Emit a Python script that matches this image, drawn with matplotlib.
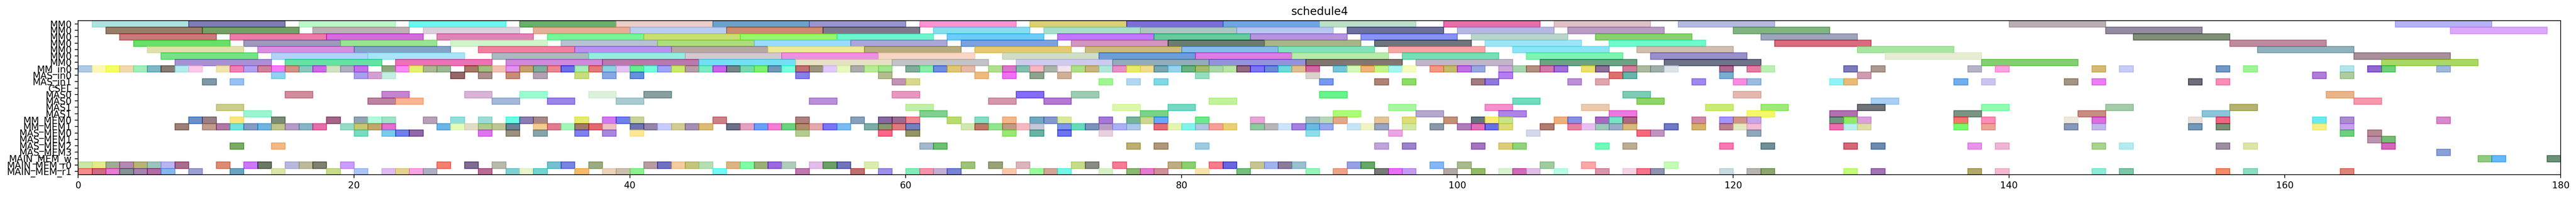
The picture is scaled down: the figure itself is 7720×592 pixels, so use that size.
import matplotlib

matplotlib.use('Agg')
import matplotlib.pyplot as plt

labels = ["MM0", "MM0", "MM0", "MM0", "MM0", "MM0", "MM0", "MM_in0", "MAS_in0", "MAS_in1", "CSEL",
          "MAS0", "MAS0", "MAS1", "MAS1", "MM_MEM0", "MM_MEM1", "MAS_MEM0", "MAS_MEM1", "MAS_MEM2",
          "MAS_MEM3", "MAIN_MEM_w", "MAIN_MEM_r0", "MAIN_MEM_r1"]

# length of one job on each row
lengths = [7, 7, 7, 7, 7, 7, 7, 1, 1, 1, 1, 2, 2, 2, 2, 1, 1, 1, 1, 1, 1, 1, 1, 1]

# start times and colours as they look on white (before alpha), one pair for each row
s0 = [1, 8, 16, 24, 32, 39, 46, 53, 61, 69, 76, 83, 90, 99, 107, 116, 140, 168]
c0 = "AEE3DE 7F7DB5 BCF7C8 6CF7EE 69AF6C ECCEC7 6CA1C9 9894CD FE93D3 DCD074 7D6DDB 6FA5E3 BCDFC8 E66EA9 DFC0C6 B6B9E0 BAAEB4 B5B2F6".split()
s1 = [2, 9, 17, 25, 33, 40, 47, 54, 62, 70, 77, 84, 92, 100, 108, 120, 147, 172]
c1 = "987D6B 769F68 BFB0B6 DCD1DF E6AE97 BACDEE CC8C6D 7E7A8B 84DFEE A8DECE ADC6C0 B8C6F0 6D709D B7B7E4 B99CC5 82B482 948BA0 DCA9FB".split()
s2 = [3, 11, 18, 26, 34, 41, 48, 55, 63, 71, 78, 85, 93, 101, 110, 122, 149]
c2 = "CB7A7C EC7CA8 D56BDD E084B7 78F599 C9DF74 98F76A 70F6CE 6ECCFB C277FC 66CB9C B992E0 8793F7 BAD5CA 8CD070 9CA5BB 808F78".split()
s3 = [4, 12, 19, 27, 35, 42, 49, 56, 64, 72, 79, 86, 94, 102, 111, 123, 156]
c3 = "68DF68 9E99BD 99E492 D0F3CC B7C2D2 ACDD7E 9ADDFD A9A6D8 7BA2E0 D295BF 6A7D70 A9B589 6F757D 9CE6F6 6EFBCD DA6B7E C08A9E".split()
s4 = [5, 13, 20, 29, 36, 43, 50, 57, 65, 73, 80, 87, 95, 104, 113, 129, 158]
c4 = "E0E3AE D88FDF 84A3C8 F580A0 B792F2 B5A7A4 EEEA98 B6AD7F E6CA70 CCBB7D 89BAEB 82E3BF FBA5A5 8AE6F6 D0BEAF A8E6A2 91B1BD".split()
s5 = [6, 14, 21, 30, 37, 44, 51, 58, 67, 74, 81, 88, 96, 105, 114, 131, 165]
c5 = "75E285 AFD3FA A9E4F7 A9BAC3 9AEBE0 D4C8D0 EC91E0 F8D7C6 D1DEC8 6D9DD6 DC7EE3 B9EAAD 76DFB5 7FF3B3 9990CB E7EDD4 A78F9C".split()
s6 = [7, 15, 23, 31, 38, 45, 52, 59, 68, 75, 82, 89, 97, 106, 115, 138, 167]
c6 = "A990D5 60E3A3 EC72B5 D089DB BC78AD 74DFF3 E5E1C5 C1C3C8 CDCBEE 92ADBA 9592DD 837672 C2B5C9 6BA385 6F7589 83CF72 A9D866".split()

s7 = [0, 1, 2, 3, 4, 5, 6, 7, 8, 10, 11, 12, 13, 14, 15, 16, 17, 18, 19, 20, 22, 23, 24, 25, 26,
      28, 29, 30, 31, 32, 33, 34, 35, 36, 37, 38, 39, 40, 41, 42, 43, 44, 45, 46, 47, 48, 49, 50,
      51, 52, 53, 54, 55, 56, 57, 58, 60, 61, 62, 63, 64, 66, 67, 68, 69, 70, 71, 72, 73, 74, 75,
      76, 77, 78, 79, 80, 81, 82, 83, 84, 85, 86, 87, 88, 89, 91, 92, 93, 94, 95, 96, 98, 99, 100,
      101, 103, 104, 105, 106, 107, 109, 110, 112, 113, 114, 115, 119, 121, 122, 128, 130, 137,
      139, 146, 148, 155, 157, 164, 166, 167, 171]
c7 = """AFC9E6 FFF8B4 F3FD5E F0D8B0 9FEFBB 7FB7C6 877D75 B3EBEE FBCBE8 F0E5AE F27FB5 B0A2F0 CF8399 F87BF9 D39184 8CC8BE CE6AE5 D0E3C0 B0AEC0 C870EC 8DA87F F98CF5 E5F075 ADB893 9DB894
A87868 A0C080 F1C2B2 DF95EF C9A070 7DB09A E98890 6C70E8 A7EFBA E37A7A 8BD2E0 E2C4F0 67EE90 77FEDD 9CA5F8 CBEA70 B99DA8 7DEBC3 C863E8 768688 7AD8B0 80F070 7398B5
7AFFDC BE7074 9C9680 E0CAFA E6F9BF ADADB0 B8EC98 A2E490 82AC98 8AEDA8 6F8DE0 E0C878 E5BAAA B0E090 D978C8 82C0AE F9B7C0 A8B4A8 F2E4EE B0E088 CBB47E B2E8DA E890C8
E8EC6A F0DE8E 78A6B4 98D4EC 6CB280 A6BA6C A8D8A8 B8E4A4 946880 7C74F4 6E88D8 70D8D8 E0BE90 D068A0 76C4D8 D4F9B8 EEB478 C8F488 A8F6F4 F4FCC0 F49880 C4BC6C C070E4
98A8E0 CEAAD8 A8D4B0 B49080 D278AC A070D8 ECE070 8C7098 D07C9C ACBCA0 A0B0AC DCE4EC AC6890 E47CA4 BCF0B4 7C7CBC AC9A90 B4B4C8
FCA0E0 D4BC74 C8CCF4 7498C4 A0F498 B4E4EC 9068D0 70D078 A0B8DC""".split()

s8 = [14, 20, 21, 22, 27, 29, 31, 33, 36, 38, 40, 52, 58, 65, 67, 69, 71, 81, 89, 103, 111, 112, 119, 129, 162, 164]
c8 = "8FD4F2 A8A0EC D4A0D4 C4EEE0 946868 AC908C C88C78 B4A0B4 C8DC7C 88A8E4 6890DC 8880E8 B4BC90 ECBC80 F070F4 8CA48C D0B098 98DCC0 D8D4CC B47CF4 E07070 68B4A8 78B0D0 CC9CB0 B07CD8 B0CCA0".split()
s9 = [9, 11, 59, 60, 74, 76, 78, 90, 94, 96, 101, 102, 108, 110, 117, 120, 121, 127, 128, 136, 138, 144, 146, 153, 155]
c9 = "8098A8 98C0F4 C094B4 D8D88C A0F890 B0D8F0 80D8E4 7898F0 B08474 8CDC60 A07C80 9078DC BC90D8 E0A4AC A088F0 F88CE0 9CBCE0 90F4F8 E8BC78 70B0F0 CCC4F0 A49484 EC7CF8 706C78 FC8CB8".split()
s10 = []
c10 = []

s11 = [15, 22, 28, 32, 37, 41, 59, 68, 72, 90, 112, 120, 163]
c11 = "D48C9C C484D0 D8B4D8 9CFCD0 DCF1DC 88A0A0 E898C0 846CF4 9CCCB4 68F488 7CCCB4 E4B8B0 ECB488".split()
s12 = [21, 23, 30, 34, 39, 53, 66, 70, 82, 104, 113, 130, 165]
c12 = "BC84A0 FCB490 A4B8D8 9C84E8 A8CCD0 B890D8 D498AC B478D4 C0F498 70DCC0 90D468 A8D0F4 F898AC".split()
s13 = [10, 60, 75, 79, 95, 102, 109, 118, 122, 129, 138, 147, 156]
c13 = "CCCC8C C0F0A8 DCF8AC 74D8C4 A8F8A0 F490CC ECCAAC CCEC74 9CEC78 707478 90FCB0 A4CCA8 B4B470".split()
s14 = [12, 61, 77, 91, 97, 103, 111, 121, 127, 136, 145, 154]
c14 = "9CF4D0 80D090 78D488 ACFC78 B4A8CC AC84E8 EC78DC F4F86C B070B0 7C9484 C88C84 8CC4D8".split()

s15 = [8, 9, 11, 14, 18, 20, 21, 22, 25, 27, 29, 31, 32, 33, 36, 38, 39, 40, 46, 52, 56, 58, 59, 60, 63, 65,
       67, 69, 70, 71, 74, 76, 77, 78, 81, 85, 89, 90, 91, 94, 96, 99, 101, 102, 103, 107, 108, 110, 111, 112,
       117, 119, 120, 121, 127, 128, 129, 136, 138, 144, 146, 153, 155, 162, 164, 171]
c15 = """6490CC 988088 FCE480 7C8C78 A46088 90A4B4 B0FCDC 9CE4C4 B8A0B8 90E0DC 9CDCD8 68FCE4 8C7CB4 A88888 E4EC6C D478F0 7080EC C8D498 D08088 B08080 88A0BC 8868A0 986C90 EC8890 B8DC70 84DCC4
F4B888 70A8C0 8498D0 DCEA98 A478D8 74B498 CCD890 68A8F8 70E888 E8A4D4 A4BCC0 B8D8BC E4A888 E4C498 DEDE74 C49078 647480 FCEC74 C8E488 F0B078 8890E4 A868C4 7CE4C4 AC6884
D488A8 A494F8 D09484 C4A4EC 6E9880 90EC60 DCA0E0 F47870 FC8CB8 EFE8DC DC6CE0 E9E0DA F06484 6CE8F0 AC8CD0 D888CC""".split()

s16 = [7, 9, 10, 11, 12, 13, 14, 15, 16, 17, 19, 20, 21, 22, 26, 27, 28, 29, 30, 31, 33, 34, 35, 36, 37, 38, 40, 41, 42,
       43, 44, 45, 47, 48, 49, 50, 51, 52, 53, 54, 55, 57, 58, 59, 60, 64, 65, 66,
       67, 68, 69, 71, 72, 73, 74, 75, 76, 78, 79, 80, 81, 82, 83, 85, 86, 87, 88, 89, 90,
       92, 93, 94, 96, 98, 100, 101, 102, 103, 106, 108, 109, 110, 111, 112, 115,
       117, 119, 120, 121, 127, 128, 129, 136, 138, 144, 146, 153, 155, 162, 164]
c16 = """9A8076 BF9C8C B078A4 70E4DC 849CC4 6CB4E4 BEC48C B49CC4 88B4C4 E86CA8 94DCC8 C8C870 C0A86C E46CD4 6CB4E8 E4FCBC E2DCC8 B0CC90 BEC498 6C8498 F4CC90 E07C90 A0F8B8 A07C68 E46470 ECC0C4 6C74B4 9484A8 C8CCFC
D2CC94 A490B4 DCBC74 6C7088 E4A0C0 68A0FC F87CD4 68D480 B08C6C E4A8B0 7C74F8 78BCF4 7CACA8 889874 DC7C80 7480C4 D0E8B0 C07868 94E490
BE9C84 F4B8C0 C8C8D8 7C94EC 64DCBC 7C94BC B8A0C4 ACB0F8 ACC8EC E66C74 E4F4B0 80F4EC B0C8E0 F8A098 ECD070 90C8A0 B8B4B8 CCE4FC A480E0 6CB8E4 98A8F0
C8E4F4 F0F4C4 98A4C0 D0E8A8 8C98A8 B07CBC E46CB8 6870E8 DEDC74 B07C70 E880A0 E8C0F0 A0C8BC 9CACC8 D8B87C 7078C8
D4B46C BC8090 E4E8C0 F4BCD4 F06CB0 B8F0EC E0DEA8 78FC6C ECA498 8898B8 C0B8EC 7498B8 7C9078 F4F084 C8A0F0""".split()

s17 = [20, 22, 23, 24, 29, 31, 33, 36, 38, 40, 52, 58, 60, 67, 69, 71, 74, 89, 95, 105, 113, 114, 121, 164, 166]
c17 = "74DCC0 78CCEC 7080E8 9068A8 E074F0 9C9080 88A4AC 8080F0 A888E0 FCE894 B4CC90 FC6488 949468 98E874 68B4A4 6C74F0 E8D0E0 90DCEC ECA4E4 D4D8EC F46C7C C094C0 90A8BC 6CD080 B88894".split()
s18 = [166, 167]
c18 = "BC94B0 78BC78".split()
s19 = [11, 14, 61, 62, 76, 78, 81, 94, 96, 101, 103, 104, 110, 112, 119, 122, 128, 130, 137, 139, 146, 148, 155, 157, 167]
c19 = "7AAC64 F4B884 A4B8CC 6CC070 BCB074 B09878 9CCCE4 C0A4DC 9C84CC A474C0 DCCC7C 90D47C 70FCBC BCAC94 FC78B4 709098 D46878 6C8CB0 E894EC F0B4D4 A8D490 B4ECF0 9C90A0 E0E4A8 D468BC".split()
s20 = [171]
c20 = "8CA0D8".split()
s21 = [174, 175, 179]
c21 = "90CC80 68B8FC 6C9078".split()

s22 = [0, 1, 2, 3, 4, 5, 6, 7, 10, 12, 13, 15, 16, 17, 19, 26, 28, 30, 34, 35, 37, 41, 42,
       43, 44, 45, 47, 48, 49, 50, 51, 53, 54, 55, 57, 64, 66,
       68, 72, 73, 75, 79, 80, 82, 83, 85, 86, 87, 88, 92, 93, 98, 100, 106, 109, 115]
c22 = """C8E8A8 E4EC88 A0AC94 B488B4 B8B478 9CC4BC B8B4F4 A86C8C DC8C74 CC78FC 6C7864 B8B8E0 BCBC9C 808070 CC9CFC F48070 806C94 B8BCAC 74C0D0 7884E0 9CAC80 B89CA0 7074C0
F4CCA0 C4C47C B4E0B4 DCB484 80FCA8 9CB078 9C68E0 B0CCBC E4BCEC 6CA068 7074BC DCECB0 9CC478 98A478
DCB4BC C4DC88 888C84 F47C94 C0AC84 8CD074 F87C8C 6868DC C8C494 A0B4EC 8C7C9C 98C0D0 98A0E4 68A868 84B8F8 A8BC90 A0CCA0 FCA8A8 C4FCB8""".split()

s23 = [0, 1, 2, 3, 4, 5, 6, 8, 11, 14, 18, 20, 22, 23, 24, 25, 29, 31, 32, 33, 36, 38, 39, 40,
       46, 52, 56, 58, 60, 61, 62, 63, 67, 69, 70, 71, 74, 76, 77, 78, 81, 84, 89, 91,
       94, 95, 96, 99, 101, 103, 104, 105, 107, 110, 112, 113, 114, 119, 121, 122, 128, 130, 137, 139,
       146, 148, 155, 157, 164]
c23 = """F48C8C CC6C80 E87CD4 849494 A484B4 B46CA4 84B8EC 9CA0D4 6CA4C0 DCE4A8 C8DC88 ACC4F4 E0BCF4 E4D48C F8A4E4 B0B0C4 BC6C94 80D0D4 E8F4CC 74D4D0 F4BC6C ECD4BC CCC0B0 90F090
70FCF4 C078B0 C07070 9C90EC 84ECB8 F494AC C4B0D4 7884D4 F8C8AC 98FC98 D4A498 74F8E8 D8F0C8 8CB870 E47CD0 D09098 F8E4A8 74C07C 98F4BC ECA488
787C78 E870F4 C89CF0 B4A8A4 94BC64 D8F4D0 D06CB8 E0C0E4 B8FCE8 DC94AC F4D4E4 F47488 9094B0 C8DCE0 B8B4B0 8CA870 C4FC7C A474B8 B4A868 F4B8D0
90ECD8 7CC8A8 F48C64 8CDCC0 E08478""".split()

starts = [s0, s1, s2, s3, s4, s5, s6, s7, s8, s9, s10, s11, s12, s13, s14, s15, s16, s17, s18, s19, s20, s21, s22, s23]
colors = [c0, c1, c2, c3, c4, c5, c6, c7, c8, c9, c10, c11, c12, c13, c14, c15, c16, c17, c18, c19, c20, c21, c22, c23]

alpha = 0.6


def base_color(shown):
    # undo the blend on white, so the bar shows this colour once alpha is applied
    rgb = [int(shown[i:i + 2], 16) / 255 for i in (0, 2, 4)]
    return [min(max((v - (1 - alpha)) / alpha, 0), 1) for v in rgb]


fig = plt.figure(figsize=(38.6, 2.96), dpi=200)
ax = fig.add_axes([234.3 / 7720, 1 - 525 / 592, (7674 - 234.3) / 7720, (525 - 62) / 592])

for row in range(len(labels)):
    for start, shown in zip(starts[row], colors[row], strict=True):
        col = base_color(shown)
        ax.barh(row, lengths[row], left=start, height=1, color=col, edgecolor=col, linewidth=1, alpha=alpha)

ax.set_xlim(0, 180)
ax.set_ylim(len(labels) - 0.5, -0.5)
ax.set_yticks(range(len(labels)))
ax.set_yticklabels(labels)
ax.set_title("schedule4")

plt.savefig("out.png", dpi=200)
